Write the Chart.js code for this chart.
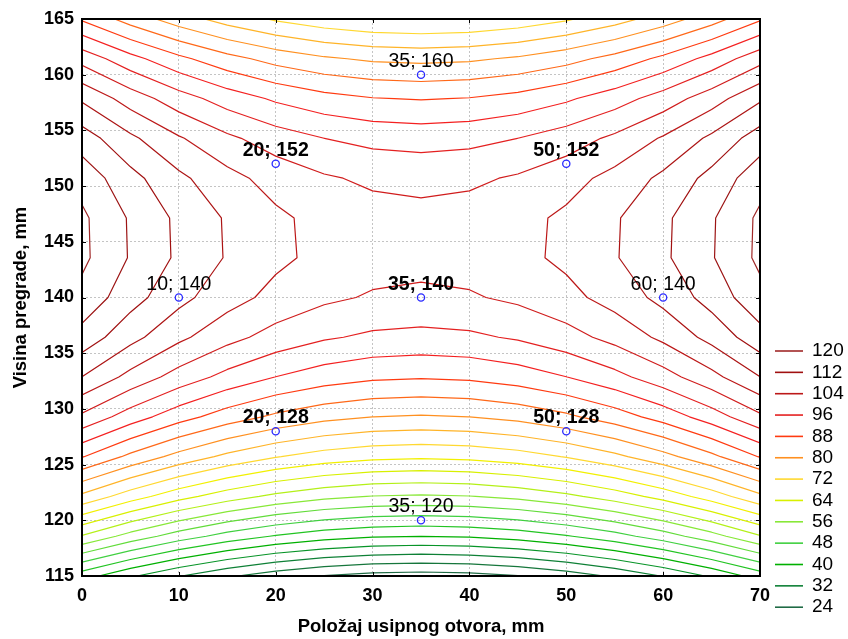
<!DOCTYPE html>
<html>
<head>
<meta charset="utf-8">
<title>Kontura</title>
<script src="https://cdn.jsdelivr.net/npm/chart.js@4.4.0/dist/chart.umd.min.js"></script>
<style>
    html, body { margin: 0; padding: 0; background: #fff; }
    #wrap { width: 848px; height: 639px; position: relative; }
</style>
</head>
<body>
<div id="wrap"><canvas id="contour-chart"></canvas></div>
<script>
// sampling grid of the fitted surface (15 x 15)
const gridX = [0, 5, 10, 15, 20, 25, 30, 35, 40, 45, 50, 55, 60, 65, 70];
const gridY = [115, 118.57, 122.14, 125.71, 129.29, 132.86, 136.43, 140, 143.57, 147.14, 150.71, 154.29, 157.86, 161.43, 165];

// surface values, one row per gridY entry (bottom -> top)
const surfaceZ = [
    [41.80, 36.60, 32.20, 28.60, 25.80, 23.80, 22.60, 22.20, 22.60, 23.80, 25.80, 28.60, 32.20, 36.60, 41.80],
    [59.64, 54.44, 50.04, 46.44, 43.64, 41.64, 40.44, 40.04, 40.44, 41.64, 43.64, 46.44, 50.04, 54.44, 59.64],
    [75.05, 69.85, 65.45, 61.85, 59.05, 57.05, 55.85, 55.45, 55.85, 57.05, 59.05, 61.85, 65.45, 69.85, 75.05],
    [88.23, 83.03, 78.63, 75.03, 72.23, 70.23, 69.03, 68.63, 69.03, 70.23, 72.23, 75.03, 78.63, 83.03, 88.23],
    [99.21, 94.01, 89.61, 86.01, 83.21, 81.21, 80.01, 79.61, 80.01, 81.21, 83.21, 86.01, 89.61, 94.01, 99.21],
    [107.95, 102.75, 98.35, 94.75, 91.95, 89.95, 88.75, 88.35, 88.75, 89.95, 91.95, 94.75, 98.35, 102.75, 107.95],
    [114.48, 109.28, 104.88, 101.28, 98.48, 96.48, 95.28, 94.88, 95.28, 96.48, 98.48, 101.28, 104.88, 109.28, 114.48],
    [118.79, 113.59, 109.19, 105.59, 102.79, 100.79, 99.59, 99.19, 99.59, 100.79, 102.79, 105.59, 109.19, 113.59, 118.79],
    [120.88, 115.68, 111.28, 107.68, 104.88, 102.88, 101.68, 101.28, 101.68, 102.88, 104.88, 107.68, 111.28, 115.68, 120.88],
    [120.76, 115.56, 111.16, 107.56, 104.76, 102.76, 101.56, 101.16, 101.56, 102.76, 104.76, 107.56, 111.16, 115.56, 120.76],
    [118.47, 113.27, 108.87, 105.27, 102.47, 100.47, 99.27, 98.87, 99.27, 100.47, 102.47, 105.27, 108.87, 113.27, 118.47],
    [114.01, 108.81, 104.41, 100.81, 98.01, 96.01, 94.81, 94.41, 94.81, 96.01, 98.01, 100.81, 104.41, 108.81, 114.01],
    [107.38, 102.18, 97.78, 94.18, 91.38, 89.38, 88.18, 87.78, 88.18, 89.38, 91.38, 94.18, 97.78, 102.18, 107.38],
    [98.57, 93.37, 88.97, 85.37, 82.57, 80.57, 79.37, 78.97, 79.37, 80.57, 82.57, 85.37, 88.97, 93.37, 98.57],
    [87.50, 82.30, 77.90, 74.30, 71.50, 69.50, 68.30, 67.90, 68.30, 69.50, 71.50, 74.30, 77.90, 82.30, 87.50]
];

const contourLevels = [24, 28, 32, 36, 40, 44, 48, 52, 56, 60, 64, 68, 72, 76, 80, 84, 88, 92, 96, 100, 104, 108, 112, 116, 120];
const levelColors = [
    "#1f6b45", "#16763c", "#0e8036", "#089428", "#00b000", "#22c422", "#40d040", "#62dc3a",
    "#88e838", "#b4f018", "#d8f000", "#f2f000", "#ffd830", "#ffb428", "#ff9020", "#ff6818",
    "#ff3a10", "#f42020", "#e42020", "#d01c1c", "#bc1818", "#ac1414", "#a01010", "#9c1414", "#a02828"
];
const legendLevels = [120, 112, 104, 96, 88, 80, 72, 64, 56, 48, 40, 32, 24];

// experimental points
const pointX = [10, 60, 20, 50, 20, 50, 35, 35, 35];
const pointY = [140, 140, 128, 128, 152, 152, 160, 120, 140];
const pointBold = [false, false, true, true, true, true, false, false, true];

const xTickValues = [0, 10, 20, 30, 40, 50, 60, 70];
const yTickValues = [115, 120, 125, 130, 135, 140, 145, 150, 155, 160, 165];

const FONT = "'Liberation Sans', Arial, sans-serif";

// marching squares over the grid, segments chained into polylines
function traceContour(level) {
    const segs = [];
    for (let j = 0; j < gridY.length - 1; j++) {
        for (let i = 0; i < gridX.length - 1; i++) {
            const c = [
                { x: gridX[i], y: gridY[j], z: surfaceZ[j][i] },
                { x: gridX[i + 1], y: gridY[j], z: surfaceZ[j][i + 1] },
                { x: gridX[i + 1], y: gridY[j + 1], z: surfaceZ[j + 1][i + 1] },
                { x: gridX[i], y: gridY[j + 1], z: surfaceZ[j + 1][i] }
            ];
            const edgeKeys = ["h" + i + "_" + j, "v" + (i + 1) + "_" + j, "h" + i + "_" + (j + 1), "v" + i + "_" + j];
            const hits = [];
            for (let e = 0; e < 4; e++) {
                const a = c[e], b = c[(e + 1) % 4];
                if ((a.z >= level) !== (b.z >= level)) {
                    const t = (level - a.z) / (b.z - a.z);
                    hits.push({ x: a.x + t * (b.x - a.x), y: a.y + t * (b.y - a.y), k: edgeKeys[e] });
                }
            }
            if (hits.length === 2) {
                segs.push([hits[0], hits[1]]);
            } else if (hits.length === 4) {
                const mid = (c[0].z + c[1].z + c[2].z + c[3].z) / 4;
                if ((mid >= level) === (c[0].z >= level)) {
                    segs.push([hits[0], hits[1]], [hits[2], hits[3]]);
                } else {
                    segs.push([hits[3], hits[0]], [hits[1], hits[2]]);
                }
            }
        }
    }

    const byKey = new Map();
    segs.forEach((s, idx) => {
        s.forEach(p => {
            if (!byKey.has(p.k)) byKey.set(p.k, []);
            byKey.get(p.k).push(idx);
        });
    });
    const used = new Array(segs.length).fill(false);
    const out = [];

    const walk = (line, key, cur, atEnd) => {
        while (true) {
            const n = (byKey.get(key) || []).find(k => k !== cur && !used[k]);
            if (n === undefined) break;
            used[n] = true;
            const far = segs[n][0].k === key ? segs[n][1] : segs[n][0];
            if (atEnd) line.push(far); else line.unshift(far);
            key = far.k;
            cur = n;
        }
    };

    for (let s = 0; s < segs.length; s++) {
        if (used[s]) continue;
        used[s] = true;
        const line = [segs[s][0], segs[s][1]];
        walk(line, segs[s][1].k, s, true);
        walk(line, segs[s][0].k, s, false);
        line.forEach(p => out.push({ x: p.x, y: p.y }));
        out.push({ x: null, y: null });
    }
    return out;
}

const contourDatasets = contourLevels.map((lvl, i) => ({
    label: String(lvl),
    data: traceContour(lvl),
    showLine: true,
    spanGaps: false,
    borderColor: levelColors[i],
    borderWidth: 1.2,
    borderCapStyle: "round",
    borderJoinStyle: "round",
    pointRadius: 0,
    pointHoverRadius: 0,
    order: 1
}));

const pointDataset = {
    label: "points",
    data: pointX.map((x, i) => ({ x: x, y: pointY[i] })),
    showLine: false,
    pointRadius: 3.6,
    pointBorderWidth: 1.3,
    pointBorderColor: "#2a2aff",
    pointBackgroundColor: "rgba(255,255,255,0)",
    order: -1
};

const framePlugin = {
    id: "frame",
    afterDatasetsDraw(chart) {
        const { ctx, chartArea: a, scales: { x, y } } = chart;
        ctx.save();
        ctx.strokeStyle = "#000";
        ctx.lineWidth = 2;
        ctx.strokeRect(a.left, a.top, a.right - a.left, a.bottom - a.top);
        ctx.lineWidth = 1;
        ctx.beginPath();
        xTickValues.forEach(v => {
            const px = Math.round(x.getPixelForValue(v)) + 0.5;
            ctx.moveTo(px, a.bottom); ctx.lineTo(px, a.bottom - 4);
            ctx.moveTo(px, a.top); ctx.lineTo(px, a.top + 4);
        });
        yTickValues.forEach(v => {
            const py = Math.round(y.getPixelForValue(v)) + 0.5;
            ctx.moveTo(a.left, py); ctx.lineTo(a.left + 4, py);
            ctx.moveTo(a.right, py); ctx.lineTo(a.right - 4, py);
        });
        ctx.stroke();

        // point labels
        ctx.fillStyle = "#000";
        ctx.textAlign = "center";
        ctx.textBaseline = "alphabetic";
        pointX.forEach((vx, i) => {
            const px = x.getPixelForValue(vx);
            const py = y.getPixelForValue(pointY[i]);
            ctx.font = (pointBold[i] ? "bold " : "") + "19.5px " + FONT;
            ctx.fillText(vx + "; " + pointY[i], px, py - 8);
        });
        ctx.restore();
    }
};

const legendPlugin = {
    id: "levelLegend",
    afterDraw(chart) {
        const { ctx, chartArea: a } = chart;
        const x0 = a.right + 15;
        ctx.save();
        ctx.font = "19px " + FONT;
        ctx.textAlign = "left";
        ctx.textBaseline = "middle";
        legendLevels.forEach((lvl, i) => {
            const yy = 351 + i * 21.35;
            ctx.strokeStyle = levelColors[contourLevels.indexOf(lvl)];
            ctx.lineWidth = 1.6;
            ctx.beginPath();
            ctx.moveTo(x0, yy);
            ctx.lineTo(x0 + 28, yy);
            ctx.stroke();
            ctx.fillStyle = "#000";
            ctx.fillText(String(lvl), x0 + 37, yy);
        });
        ctx.restore();
    }
};

const gridOpts = { color: "#c4c4c4", lineWidth: 1, drawTicks: false };
const borderOpts = { display: false, dash: [2, 2] };
const tickFont = { family: FONT, size: 18, weight: "bold" };

new Chart(document.getElementById("contour-chart"), {
    type: "scatter",
    data: { datasets: [pointDataset, ...contourDatasets] },
    options: {
        animation: false,
        responsive: true,
        maintainAspectRatio: false,
        layout: { padding: { top: 19, right: 88, left: 0, bottom: 0 } },
        plugins: {
            legend: { display: false },
            tooltip: { enabled: false }
        },
        scales: {
            x: {
                type: "linear",
                min: 0,
                max: 70,
                afterBuildTicks: s => { s.ticks = xTickValues.map(v => ({ value: v })); },
                afterFit: s => { s.height = 63; },
                grid: gridOpts,
                border: borderOpts,
                ticks: { font: tickFont, color: "#000", padding: 9 },
                title: {
                    display: true,
                    text: "Položaj usipnog otvora, mm",
                    font: { family: FONT, size: 18.5, weight: "bold" },
                    color: "#000",
                    padding: { top: 0, bottom: 1 }
                }
            },
            y: {
                type: "linear",
                min: 115,
                max: 165,
                afterBuildTicks: s => { s.ticks = yTickValues.map(v => ({ value: v })); },
                afterFit: s => { s.width = 82; },
                grid: gridOpts,
                border: borderOpts,
                ticks: { font: tickFont, color: "#000", padding: 8 },
                title: {
                    display: true,
                    text: "Visina pregrade, mm",
                    font: { family: FONT, size: 18.5, weight: "bold" },
                    color: "#000",
                    padding: { top: 10, bottom: 0 }
                }
            }
        }
    },
    plugins: [framePlugin, legendPlugin]
});
</script>
</body>
</html>
